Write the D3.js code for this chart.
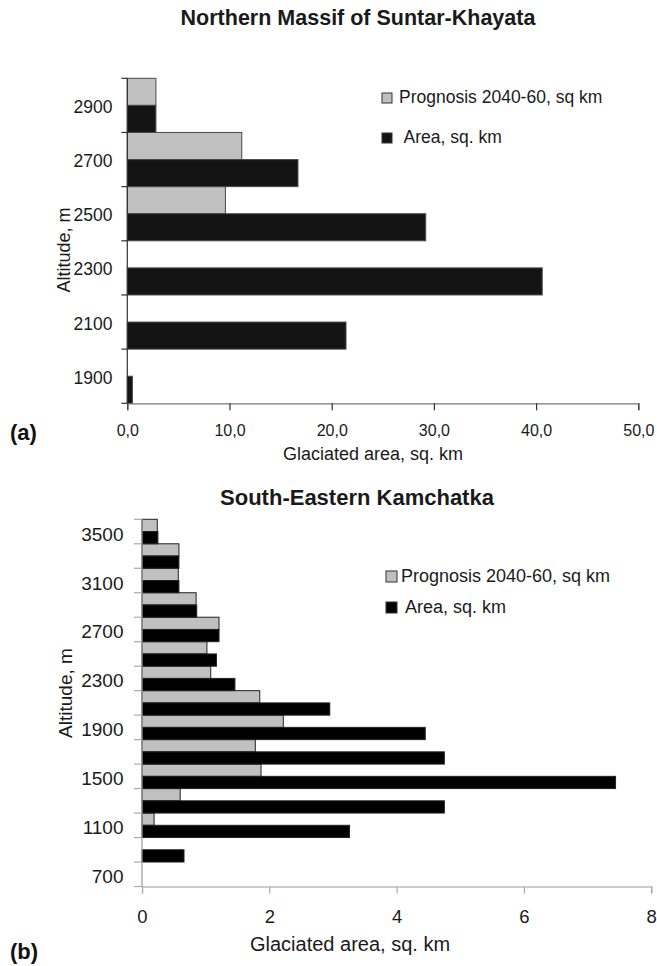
<!DOCTYPE html>
<html>
<head>
<meta charset="utf-8">
<script src="https://cdn.jsdelivr.net/npm/d3@7/dist/d3.min.js"></script>
<style>
  html, body { margin: 0; padding: 0; background: #fff; }
  svg { display: block; font-family: "Liberation Sans", Arial, sans-serif; }
</style>
</head>
<body>
<svg id="chart" width="657" height="966"></svg>
<script>
// ---------- Data: panel (a) Northern Massif of Suntar-Khayata ----------
const altitudesA = ["2900", "2700", "2500", "2300", "2100", "1900"];
const prognosisA = [2.8, 11.2, 9.6, 0, 0, 0];
const areaA      = [2.8, 16.7, 29.2, 40.6, 21.4, 0.5];
const xTicksA    = [0, 10, 20, 30, 40, 50];

// ---------- Data: panel (b) South-Eastern Kamchatka ----------
const altitudesB = ["3500", "3300", "3100", "2900", "2700", "2500", "2300", "2100",
                    "1900", "1700", "1500", "1300", "1100", "900", "700"];
const prognosisB = [0.24, 0.58, 0.57, 0.85, 1.21, 1.02, 1.08, 1.85,
                    2.22, 1.78, 1.87, 0.60, 0.19, 0, 0];
const areaB      = [0.25, 0.58, 0.58, 0.86, 1.21, 1.17, 1.46, 2.95,
                    4.45, 4.75, 7.44, 4.75, 3.26, 0.66, 0];
const xTicksB    = [0, 2, 4, 6, 8];
const yLabelsB   = ["3500", "3100", "2700", "2300", "1900", "1500", "1100", "700"];

const seriesNames = ["Prognosis 2040-60, sq km", "Area, sq. km"];

const svg = d3.select("#chart");

function drawPanel(cfg) {
  const g = svg.append("g");
  const x = d3.scaleLinear().domain(cfg.xDomain).range([cfg.left, cfg.right]);
  const y = d3.scaleBand().domain(cfg.cats).range([cfg.top, cfg.bottom]).paddingInner(0).paddingOuter(0);
  const sub = d3.scaleBand().domain(["prog", "area"]).range([0, y.bandwidth()]).padding(0);

  const rows = cfg.cats.map((c, i) => ({ cat: c, prog: cfg.prog[i], area: cfg.area[i] }));

  // bars
  const keys = [
    { key: "prog", fill: cfg.grayFill },
    { key: "area", fill: cfg.blackFill }
  ];
  keys.forEach(k => {
    g.append("g").selectAll("rect")
      .data(rows.filter(d => d[k.key] > 0))
      .join("rect")
      .attr("x", x(0))
      .attr("y", d => y(d.cat) + sub(k.key))
      .attr("width", d => x(d[k.key]) - x(0))
      .attr("height", sub.bandwidth())
      .attr("fill", k.fill)
      .attr("stroke", cfg.barStroke)
      .attr("stroke-width", 1);
  });

  // x axis
  const xAxis = d3.axisBottom(x).tickValues(cfg.xTicks).tickSize(7).tickPadding(cfg.xTickPad)
    .tickFormat(cfg.xFormat);
  const gx = g.append("g").attr("transform", `translate(0,${cfg.bottom})`).call(xAxis);
  gx.attr("font-family", '"Liberation Sans", Arial, sans-serif');
  gx.select(".domain").attr("stroke", cfg.xAxisColor).attr("stroke-width", 1.2);
  gx.selectAll(".tick line").attr("stroke", cfg.xTickColor).attr("stroke-width", 1.2);
  gx.selectAll(".tick text").attr("font-size", cfg.xTickFont).attr("fill", "#1a1a1a");

  // y axis line + band boundary ticks
  const boundaries = cfg.cats.map(c => y(c)).concat([cfg.bottom]);
  g.append("line")
    .attr("x1", x(0)).attr("x2", x(0))
    .attr("y1", cfg.top).attr("y2", cfg.bottom)
    .attr("stroke", cfg.yAxisColor).attr("stroke-width", 1.2);
  g.append("g").selectAll("line").data(boundaries).join("line")
    .attr("x1", x(0) - cfg.yTickLen).attr("x2", x(0))
    .attr("y1", d => d).attr("y2", d => d)
    .attr("stroke", cfg.yTickColor).attr("stroke-width", 1.2);

  // y tick labels
  g.append("g").selectAll("text").data(cfg.yLabels).join("text")
    .attr("x", cfg.yLabelRight)
    .attr("y", d => y(d) + y.bandwidth() / 2 + cfg.yLabelDy)
    .attr("text-anchor", "end")
    .attr("font-size", cfg.yTickFont)
    .attr("fill", "#1a1a1a")
    .text(d => d);

  // title
  g.append("text").attr("x", cfg.titleX).attr("y", cfg.titleY)
    .attr("text-anchor", "middle").attr("font-weight", "bold")
    .attr("font-size", cfg.titleFont).attr("fill", "#1a1a1a").text(cfg.title);

  // x axis title
  g.append("text").attr("x", cfg.xTitleX).attr("y", cfg.xTitleY)
    .attr("text-anchor", "middle").attr("font-size", cfg.xTitleFont)
    .attr("fill", "#1a1a1a").text("Glaciated area, sq. km");

  // y axis title
  g.append("text")
    .attr("transform", `translate(${cfg.yTitleX},${cfg.yTitleY}) rotate(-90)`)
    .attr("text-anchor", "middle").attr("font-size", cfg.yTitleFont)
    .attr("fill", "#1a1a1a").text("Altitude, m");

  // panel letter
  g.append("text").attr("x", 10).attr("y", cfg.letterY)
    .attr("font-weight", "bold").attr("font-size", cfg.letterFont)
    .attr("fill", "#111").text(cfg.letter);

  // legend
  const leg = g.append("g");
  const legFills = [cfg.grayFill, cfg.blackFill];
  seriesNames.forEach((name, i) => {
    leg.append("rect")
      .attr("x", cfg.legX).attr("y", cfg.legY[i])
      .attr("width", cfg.legBox).attr("height", cfg.legBox)
      .attr("fill", legFills[i]).attr("stroke", "#333").attr("stroke-width", 1);
    leg.append("text")
      .attr("x", cfg.legTextX[i]).attr("y", cfg.legY[i] + cfg.legBox - 0.5)
      .attr("font-size", cfg.legFont).attr("fill", "#1a1a1a").text(name);
  });
}

// Panel (a)
drawPanel({
  title: "Northern Massif of Suntar-Khayata", titleX: 358, titleY: 25, titleFont: 21.5,
  cats: altitudesA, prog: prognosisA, area: areaA, yLabels: altitudesA,
  xDomain: [0, 50], xTicks: xTicksA, xFormat: d => d3.format(".1f")(d).replace(".", ","),
  left: 127.3, right: 638.3, top: 78.3, bottom: 403.3,
  grayFill: "#c0c0c0", blackFill: "#141414", barStroke: "#4a4a4a",
  xAxisColor: "#777", xTickColor: "#333", yAxisColor: "#333", yTickColor: "#333", yTickLen: 6,
  xTickPad: 14, xTickFont: 16, yTickFont: 17.5, yLabelRight: 112.5, yLabelDy: 7.5,
  xTitleX: 373, xTitleY: 460, xTitleFont: 18,
  yTitleX: 70, yTitleY: 250, yTitleFont: 18,
  letter: "(a)", letterY: 440, letterFont: 22,
  legX: 382, legY: [93, 133], legBox: 10, legTextX: [399, 403.5], legFont: 17.5
});

// Panel (b)
drawPanel({
  title: "South-Eastern Kamchatka", titleX: 357, titleY: 505, titleFont: 22,
  cats: altitudesB, prog: prognosisB, area: areaB, yLabels: yLabelsB,
  xDomain: [0, 8], xTicks: xTicksB, xFormat: d3.format("d"),
  left: 142, right: 651.2, top: 519.3, bottom: 886.5,
  grayFill: "#c0c0c0", blackFill: "#000", barStroke: "#222",
  xAxisColor: "#999", xTickColor: "#aaa", yAxisColor: "#999", yTickColor: "#aaa", yTickLen: 8,
  xTickPad: 16, xTickFont: 18.5, yTickFont: 19, yLabelRight: 123.5, yLabelDy: 9,
  xTitleX: 350, xTitleY: 951, xTitleFont: 20,
  yTitleX: 72, yTitleY: 693, yTitleFont: 19,
  letter: "(b)", letterY: 959, letterFont: 22,
  legX: 386, legY: [571, 602], legBox: 11, legTextX: [401, 405], legFont: 18
});
</script>
</body>
</html>
